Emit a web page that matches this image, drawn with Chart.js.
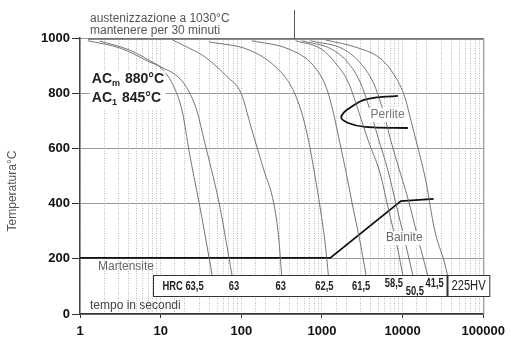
<!DOCTYPE html>
<html>
<head>
<meta charset="utf-8">
<script src="https://cdn.jsdelivr.net/npm/chart.js@4.4.1/dist/chart.umd.min.js"></script>
<style>
  html, body { margin: 0; padding: 0; background: #fff; }
</style>
</head>
<body>
<canvas id="cct" width="511" height="338"></canvas>
<script>
// axes: time in seconds (log) and temperature in °C
const timeTicks = [1, 10, 100, 1000, 10000, 100000];
const tempTicks = [0, 200, 400, 600, 800, 1000];

// cooling curves: [time s, temperature °C]
const curveA = [[1.25, 990], [3.11, 964], [7.28, 913], [10.2, 891], [14.8, 819], [18.6, 732], [22.6, 587], [30, 402], [39.9, 203], [43.4, 141]];
const curveB = [[1.76, 989], [4.13, 956], [9.66, 898], [17, 855], [22.6, 804], [28.4, 732], [34.6, 630], [53, 402], [70.4, 203], [76.6, 141]];
const curveC = [[14, 993], [32.7, 938], [39.9, 920], [66.5, 860], [98.9, 801], [135, 667], [190, 522], [252, 402], [290, 279], [316, 141]];
const curveD = [[39.9, 986], [124, 957], [267, 895], [420, 822], [557, 732], [680, 630], [806, 511], [955, 380], [1101, 250], [1199, 141]];
const curveE = [[135, 990], [386, 960], [784, 900], [1133, 820], [1382, 730], [1638, 630], [1998, 511], [2368, 400], [2971, 260], [3523, 141]];
const curveF = [[470, 990], [983, 960], [1462, 910], [2115, 840], [2807, 739], [3728, 630], [5239, 511], [6572, 388], [8731, 232], [10058, 141]];
const curveG = [[557, 990], [1306, 960], [2115, 910], [2971, 840], [3946, 739], [4950, 640], [6572, 520], [8248, 400], [10950, 250], [13355, 141]];
const curveH = [[720, 990], [1834, 960], [2971, 910], [4296, 840], [5705, 739], [6956, 640], [8731, 540], [11590, 420], [16285, 250], [20433, 141]];
const curveI = [[1101, 993], [2807, 964], [5389, 924], [8014, 862], [10644, 786], [12620, 703], [15390, 605], [19307, 485], [24925, 304], [33094, 185], [36030, 141]];

// hardness at the end of each curve
const hardness = ["HRC 63,5", "63", "63", "62,5", "61,5", "58,5", "50,5", "41,5", "225HV"];

// Ms / bainite start line and the pearlite nose
const msLine = [[1, 203], [1268, 203], [9502, 409], [24230, 417]];
const perlite = [[8731, 790], [3728, 779], [2301, 750], [1734, 714], [2115, 692], [3423, 678], [11590, 674]];

const coolingCurves = [curveA, curveB, curveC, curveD, curveE, curveF, curveG, curveH, curveI];
const toPts = arr => arr.map(p => ({ x: p[0], y: p[1] }));
const isDecade = v => Math.abs(Math.log10(v) - Math.round(Math.log10(v))) < 1e-6;

const datasets = coolingCurves.map(c => ({
  data: toPts(c),
  borderColor: "#666",
  borderWidth: 0.9,
  pointRadius: 0,
  showLine: true,
  cubicInterpolationMode: "monotone",
}));
datasets.push({ data: toPts(msLine), borderColor: "#111", borderWidth: 1.8, pointRadius: 0, showLine: true, tension: 0 });
datasets.push({ data: toPts(perlite), borderColor: "#111", borderWidth: 1.8, pointRadius: 0, showLine: true, tension: 0.45 });

function textBox(ctx, text, px, py, font, color) {
  ctx.font = font;
  const w = ctx.measureText(text).width;
  ctx.fillStyle = "#fff";
  ctx.fillRect(px - 2, py - 7, w + 4, 14);
  ctx.fillStyle = color;
  ctx.fillText(text, px, py);
}

// texts, frame and hardness strip
const notes = {
  id: "notes",
  afterDatasetsDraw(chart) {
    const { ctx, chartArea: a, scales: { x, y } } = chart;
    ctx.save();
    ctx.textBaseline = "middle";
    ctx.textAlign = "left";

    // frame top / right
    ctx.strokeStyle = "#666";
    ctx.lineWidth = 1.5;
    ctx.beginPath();
    ctx.moveTo(a.left + 8, a.top + 1);
    ctx.lineTo(a.right, a.top + 1);
    ctx.stroke();
    ctx.strokeStyle = "#888";
    ctx.lineWidth = 1;
    ctx.beginPath();
    ctx.moveTo(a.right + 0.5, a.top);
    ctx.lineTo(a.right + 0.5, a.bottom);
    ctx.stroke();

    // austenitising note with bracket
    const bx = Math.round(x.getPixelForValue(444)) + 0.5;
    ctx.strokeStyle = "#555";
    ctx.beginPath();
    ctx.moveTo(bx, 10);
    ctx.lineTo(bx, a.top + 1);
    ctx.stroke();
    ctx.font = "12px 'Liberation Sans', Arial, sans-serif";
    ctx.fillStyle = "#555";
    ctx.fillText("austenizzazione a 1030°C", 90, 19);
    ctx.fillText("mantenere per 30 minuti", 90, 31);

    // AC temperatures
    const acx = x.getPixelForValue(1.4);
    ctx.fillStyle = "#fff";
    ctx.fillRect(acx - 2, y.getPixelForValue(880), 76, 38);
    const bold = "bold 14px 'Liberation Sans', Arial, sans-serif";
    const sub = "bold 9px 'Liberation Sans', Arial, sans-serif";
    [["m", "880°C", 852], ["1", "845°C", 783]].forEach(([s, t, temp]) => {
      const py = y.getPixelForValue(temp);
      ctx.fillStyle = "#222";
      ctx.font = bold;
      ctx.fillText("AC", acx, py);
      let w = ctx.measureText("AC").width;
      ctx.font = sub;
      ctx.fillText(s, acx + w, py + 5);
      w += ctx.measureText(s).width + 5;
      ctx.font = bold;
      ctx.fillText(t, acx + w, py);
    });

    // phase names
    const reg = "12px 'Liberation Sans', Arial, sans-serif";
    textBox(ctx, "Perlite", x.getPixelForValue(4000), y.getPixelForValue(721), reg, "#777");
    textBox(ctx, "Bainite", x.getPixelForValue(6200), y.getPixelForValue(275), reg, "#666");
    ctx.font = reg;
    ctx.fillStyle = "#666";
    ctx.fillText("Martensite", x.getPixelForValue(1.67), y.getPixelForValue(170));
    ctx.fillStyle = "#444";
    ctx.fillText("tempo in secondi", x.getPixelForValue(1.33), y.getPixelForValue(29));

    // hardness strip
    const top = Math.round(y.getPixelForValue(141)) + 0.5;
    const bot = Math.round(y.getPixelForValue(65)) + 0.5;
    const left = Math.round(x.getPixelForValue(8)) + 0.5;
    const right = a.right + 6.5;
    ctx.fillStyle = "#fff";
    ctx.fillRect(left, top, right - left, bot - top);
    ctx.strokeStyle = "#333";
    ctx.lineWidth = 1;
    ctx.strokeRect(left, top, right - left, bot - top);
    const div = Math.round(x.getPixelForValue(35000)) + 0.5;
    ctx.lineWidth = 2;
    ctx.beginPath();
    ctx.moveTo(div, top);
    ctx.lineTo(div, bot);
    ctx.stroke();

    const nudgeX = [-29, 2, -1, -4, -5, -9, 2, 7, 21];
    const nudgeY = [0, 0, 0, 0, 0, -3, 5, -3, 0];
    ctx.textAlign = "center";
    ctx.fillStyle = "#222";
    hardness.forEach((h, i) => {
      const c = coolingCurves[i];
      const end = c[c.length - 1];
      ctx.save();
      ctx.translate(x.getPixelForValue(end[0]) + nudgeX[i], (top + bot) / 2 + nudgeY[i]);
      ctx.scale(i === 8 ? 0.8 : 0.72, 1);
      ctx.font = i === 8 ? "14px 'Liberation Sans', Arial, sans-serif"
                         : "bold 13px 'Liberation Sans', Arial, sans-serif";
      ctx.fillText(h, 0, 0);
      ctx.restore();
    });

    // y axis title
    ctx.translate(13, 191);
    ctx.rotate(-Math.PI / 2);
    ctx.textAlign = "center";
    ctx.font = reg;
    ctx.fillStyle = "#555";
    ctx.fillText("Temperatura°C", 0, 0);
    ctx.restore();
  }
};

new Chart(document.getElementById("cct"), {
  type: "scatter",
  data: { datasets: datasets },
  plugins: [notes],
  options: {
    responsive: false,
    animation: false,
    layout: { padding: { top: 38, right: 24, left: 0, bottom: 0 } },
    plugins: { legend: { display: false }, tooltip: { enabled: false } },
    scales: {
      x: {
        type: "logarithmic",
        min: timeTicks[0],
        max: timeTicks[timeTicks.length - 1],
        afterFit: s => { s.height = 24; },
        border: { color: "#333", width: 1.5, dash: [1, 1.5] },
        grid: {
          color: "#b8b8b8",
          lineWidth: 1,
          tickLength: 4,
          tickColor: c => (c.tick && isDecade(c.tick.value) ? "#333" : "rgba(0,0,0,0)"),
        },
        ticks: {
          autoSkip: false,
          maxRotation: 0,
          padding: 6,
          color: "#111",
          font: { family: "'Liberation Sans', Arial, sans-serif", size: 13, weight: "bold" },
          callback: v => (isDecade(v) && timeTicks.includes(Math.round(v)) ? String(Math.round(v)) : ""),
        },
      },
      y: {
        min: tempTicks[0],
        max: tempTicks[tempTicks.length - 1],
        afterFit: s => { s.width = 80; },
        afterBuildTicks: s => { s.ticks = tempTicks.map(v => ({ value: v })); },
        border: { color: "#444", width: 1.5 },
        grid: { color: "#9a9a9a", lineWidth: 1, tickLength: 8, tickColor: "#333" },
        ticks: {
          padding: 2,
          color: "#111",
          font: { family: "'Liberation Sans', Arial, sans-serif", size: 13, weight: "bold" },
          callback: v => String(v),
        },
      },
    },
  },
});
</script>
</body>
</html>
